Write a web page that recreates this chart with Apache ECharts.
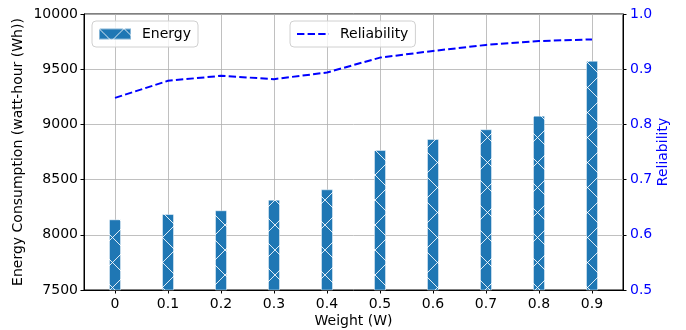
<!DOCTYPE html>
<html>
<head>
<meta charset="utf-8">
<script src="https://cdn.jsdelivr.net/npm/echarts@6/dist/echarts.min.js"></script>
<style>
  html, body { margin: 0; padding: 0; background: #fff; }
  #chart { width: 686px; height: 330px; }
</style>
</head>
<body>
<div id="chart"></div>
<script>
const WEIGHTS = [0, 0.1, 0.2, 0.3, 0.4, 0.5, 0.6, 0.7, 0.8, 0.9]
const ENERGY = [8140, 8188, 8222, 8318, 8412, 8768, 8868, 8956, 9079, 9576]
const RELIABILITY = [0.848, 0.879, 0.888, 0.882, 0.894, 0.921, 0.933, 0.944, 0.951, 0.954]

const FONT = 'DejaVu Sans'
const BLUE = '#1f77b4'

// hatch 'x' pattern like matplotlib
function hatchPattern() {
  const s = 25
  const c = document.createElement('canvas')
  c.width = s
  c.height = s
  const ctx = c.getContext('2d')
  ctx.fillStyle = BLUE
  ctx.fillRect(0, 0, s, s)
  ctx.strokeStyle = 'rgba(255,255,255,0.85)'
  ctx.lineWidth = 1
  ctx.beginPath()
  ctx.moveTo(-2, -2); ctx.lineTo(s + 2, s + 2)
  ctx.moveTo(s + 2, -2); ctx.lineTo(-2, s + 2)
  ctx.stroke()
  return { image: c, repeat: 'repeat' }
}

const chart = echarts.init(document.getElementById('chart'), null, { renderer: 'canvas' })
const hatch = hatchPattern()

const tickLabel = { color: '#000', fontFamily: FONT, fontSize: 14 }
const legendBox = {
  top: 21,
  padding: [6, 7, 6, 6],
  itemWidth: 32, itemHeight: 11,
  borderColor: '#d0d0d0', borderWidth: 1, borderRadius: 4,
  backgroundColor: 'rgba(255,255,255,0.8)',
  textStyle: { fontFamily: FONT, fontSize: 14, color: '#000', padding: [0, 0, 0, 6] },
}

chart.setOption({
  animation: false,
  textStyle: { fontFamily: FONT },
  grid: {
    left: 84, right: 63, top: 14, bottom: 40,
    outerBoundsMode: 'none',
    show: true, borderColor: '#000', borderWidth: 1, backgroundColor: 'transparent',
  },
  legend: [
    { ...legendBox, left: 92, data: [{ name: 'Energy', icon: 'rect' }] },
    { ...legendBox, left: 290, data: ['Reliability'], itemStyle: { opacity: 0 } },
  ],
  xAxis: {
    type: 'value',
    min: -0.0585,
    max: 0.9585,
    name: 'Weight (W)',
    nameLocation: 'middle',
    nameGap: 24,
    nameMoveOverlap: false,
    nameTextStyle: { color: '#000', fontFamily: FONT, fontSize: 14 },
    axisLine: { show: true, onZero: false, lineStyle: { color: '#000', width: 1 } },
    axisTick: { show: true, inside: false, length: 3.5, customValues: WEIGHTS, lineStyle: { color: '#000' } },
    axisLabel: { ...tickLabel, margin: 7, customValues: WEIGHTS, formatter: (v) => String(v) },
    splitLine: { show: true, lineStyle: { color: '#b0b0b0', width: 0.8 } },
  },
  yAxis: [
    {
      type: 'value',
      min: 7500,
      max: 10000,
      interval: 500,
      position: 'left',
      name: 'Energy Consumption (watt-hour (Wh))',
      nameLocation: 'middle',
      nameRotate: 90,
      nameGap: 59,
      nameMoveOverlap: false,
      nameTextStyle: { color: '#000', fontFamily: FONT, fontSize: 14 },
      axisLine: { show: true, onZero: false, lineStyle: { color: '#000', width: 1 } },
      axisTick: { show: true, inside: false, length: 3.5, lineStyle: { color: '#000' } },
      axisLabel: { ...tickLabel, margin: 6, formatter: (v) => String(v) },
      splitLine: { show: true, lineStyle: { color: '#b0b0b0', width: 0.8 } },
    },
    {
      type: 'value',
      min: 0.5,
      max: 1.0,
      interval: 0.1,
      position: 'right',
      name: 'Reliability',
      nameLocation: 'middle',
      nameRotate: 90,
      nameGap: 33,
      nameMoveOverlap: false,
      nameTextStyle: { color: '#0000ff', fontFamily: FONT, fontSize: 14 },
      axisLine: { show: true, onZero: false, lineStyle: { color: '#000', width: 1 } },
      axisTick: { show: true, inside: false, length: 3.5, lineStyle: { color: '#000' } },
      axisLabel: { ...tickLabel, color: '#0000ff', margin: 7, formatter: (v) => v.toFixed(1) },
      splitLine: { show: false },
    },
  ],
  series: [
    {
      name: 'Energy',
      type: 'bar',
      yAxisIndex: 0,
      barWidth: 12,
      data: WEIGHTS.map((w, i) => [w, ENERGY[i]]),
      itemStyle: { color: hatch, borderColor: 'rgba(255,255,255,0.45)', borderWidth: 1 },
      clip: true,
    },
    {
      name: 'Reliability',
      type: 'line',
      yAxisIndex: 1,
      data: WEIGHTS.map((w, i) => [w, RELIABILITY[i]]),
      symbol: 'none',
      lineStyle: { color: '#0000ff', width: 2, type: [7.4, 3.2] },
      itemStyle: { color: '#0000ff' },
      z: 5,
    },
  ],
})
</script>
</body>
</html>
